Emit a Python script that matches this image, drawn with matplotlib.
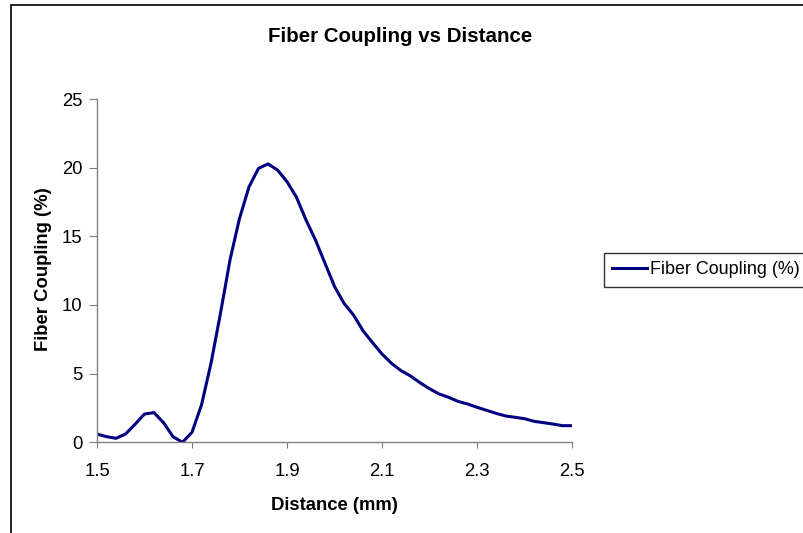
import matplotlib.pyplot as plt
from matplotlib.patches import Rectangle

# data, step 0.02 mm
distance = [1.50, 1.52, 1.54, 1.56, 1.58, 1.60, 1.62, 1.64, 1.66, 1.68,
            1.70, 1.72, 1.74, 1.76, 1.78, 1.80, 1.82, 1.84, 1.86, 1.88,
            1.90, 1.92, 1.94, 1.96, 1.98, 2.00, 2.02, 2.04, 2.06, 2.08,
            2.10, 2.12, 2.14, 2.16, 2.18, 2.20, 2.22, 2.24, 2.26, 2.28,
            2.30, 2.32, 2.34, 2.36, 2.38, 2.40, 2.42, 2.44, 2.46, 2.48, 2.50]
coupling = [0.60, 0.41, 0.29, 0.60, 1.31, 2.06, 2.16, 1.43, 0.41, 0.0,
            0.73, 2.72, 5.75, 9.4, 13.28, 16.3, 18.6, 19.95, 20.27, 19.83,
            18.98, 17.84, 16.19, 14.73, 13.04, 11.35, 10.12, 9.27, 8.13, 7.26,
            6.43, 5.75, 5.22, 4.83, 4.34, 3.9, 3.52, 3.28, 2.98, 2.79,
            2.55, 2.33, 2.11, 1.92, 1.82, 1.72, 1.53, 1.43, 1.33, 1.21, 1.21]
x_ticks = [1.5, 1.7, 1.9, 2.1, 2.3, 2.5]
y_ticks = [0, 5, 10, 15, 20, 25]

plt.rcParams['font.family'] = ['Liberation Sans', 'DejaVu Sans']
fs = 13.3

W, H = 804, 533
fig = plt.figure(figsize=(W / 100, H / 100), dpi=100)

# chart area border (cut off at right and bottom like the original)
fig.patches.append(Rectangle((11 / W, -0.1), 1.1, 1 - 5 / H + 0.1, transform=fig.transFigure,
                             fill=False, edgecolor='black', linewidth=1.2))

ax = fig.add_axes([97 / W, 1 - 442.3 / H, (572 - 97) / W, (442.3 - 99) / H])
line, = ax.plot(distance, coupling, color='#000080', linewidth=2.2, label='Fiber Coupling (%)')

ax.set_xlim(1.5, 2.5)
ax.set_ylim(0, 25)
ax.set_xticks(x_ticks)
ax.set_xticklabels([str(t) for t in x_ticks])
ax.set_yticks(y_ticks)
ax.spines['top'].set_visible(False)
ax.spines['right'].set_visible(False)
for s in ['left', 'bottom']:
    ax.spines[s].set_color('#808080')
    ax.spines[s].set_linewidth(1.0)
ax.tick_params(direction='out', color='#808080', labelsize=fs)
ax.tick_params(axis='x', length=4.3, pad=10.5)
ax.tick_params(axis='y', length=6, pad=4.5)

fig.text(400 / W, 1 - 36.7 / H, 'Fiber Coupling vs Distance', ha='center', va='center',
         fontsize=14.8, fontweight='bold')
fig.text(334.5 / W, 1 - 506 / H, 'Distance (mm)', ha='center', va='center',
         fontsize=fs, fontweight='bold')
fig.text(43.3 / W, 1 - 269 / H, 'Fiber Coupling (%)', ha='center', va='center',
         fontsize=fs, fontweight='bold', rotation=90)

leg = fig.legend(handles=[line], loc='center left', bbox_to_anchor=(604 / W, 1 - 270 / H),
                 frameon=True, fancybox=False, fontsize=12.9, handlelength=1.95,
                 handletextpad=0.15, borderpad=0.45, borderaxespad=0)
leg.get_frame().set_edgecolor('black')
leg.get_frame().set_linewidth(1.0)

fig.savefig('out.png', dpi=100)
